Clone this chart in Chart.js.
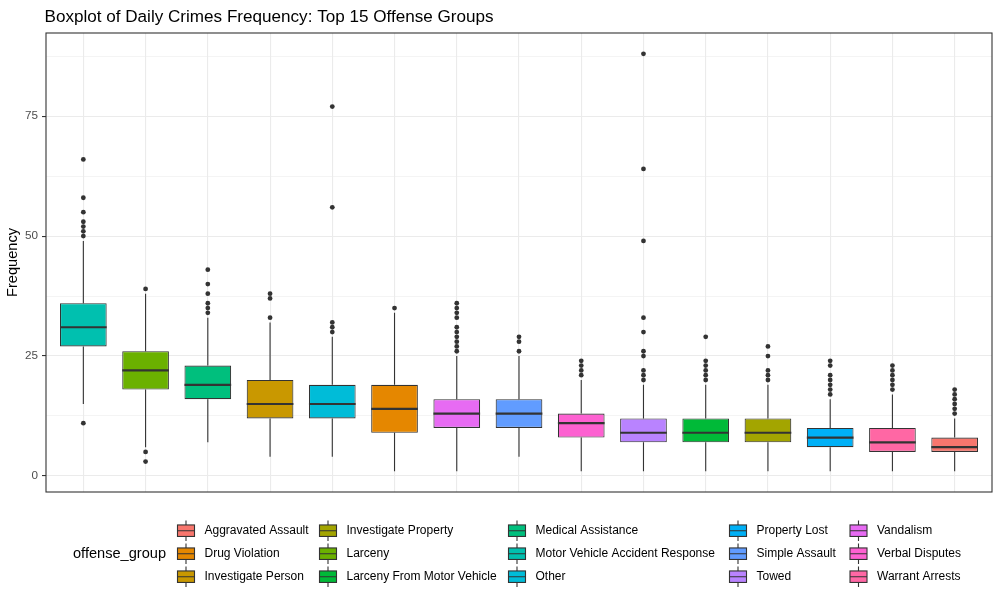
<!DOCTYPE html>
<html>
<head>
<meta charset="utf-8">
<script src="https://cdn.jsdelivr.net/npm/chart.js@4.4.1/dist/chart.umd.min.js"></script>
<style>
  html, body { margin: 0; padding: 0; background: #fff; }
  #wrap { width: 1000px; height: 602px; position: relative; }
</style>
</head>
<body>
<div id="wrap"><canvas id="chart"></canvas></div>
<script>
// legend groups (alphabetical, ggplot hue palette)
const offenseGroups = ["Aggravated Assault", "Drug Violation", "Investigate Person", "Investigate Property",
  "Larceny", "Larceny From Motor Vehicle", "Medical Assistance", "Motor Vehicle Accident Response",
  "Other", "Property Lost", "Simple Assault", "Towed", "Vandalism", "Verbal Disputes", "Warrant Arrests"];
const groupColors = ["#F8766D", "#E58700", "#C99800", "#A3A500", "#6BB100", "#00BA38", "#00BF7D", "#00C0AF",
  "#00BCD8", "#00B0F6", "#619CFF", "#B983FF", "#E76BF3", "#FD61D1", "#FF67A4"];

// boxes, in plotted order (by median)
const categories = ["Motor Vehicle Accident Response", "Larceny", "Medical Assistance", "Investigate Person",
  "Other", "Drug Violation", "Vandalism", "Simple Assault", "Verbal Disputes", "Towed",
  "Larceny From Motor Vehicle", "Investigate Property", "Property Lost", "Warrant Arrests", "Aggravated Assault"];
const lowerWhisker = [15, 6, 7, 4, 4, 1, 1, 4, 1, 1, 1, 1, 1, 1, 1];
const q1 = [27, 18, 16, 12, 12, 9, 10, 10, 8, 7, 7, 7, 6, 5, 5];
const median = [31, 22, 19, 15, 15, 14, 13, 13, 11, 9, 9, 9, 8, 7, 6];
const q3 = [36, 26, 23, 20, 19, 19, 16, 16, 13, 12, 12, 12, 10, 10, 8];
const upperWhisker = [49, 38, 33, 32, 29, 34, 25, 25, 20, 19, 19, 19, 16, 17, 12];
const outliers = [
  [11, 50, 51, 52, 53, 55, 58, 66],
  [3, 5, 39],
  [34, 35, 36, 38, 40, 43],
  [33, 37, 38],
  [30, 31, 32, 56, 77],
  [35],
  [26, 27, 28, 29, 30, 31, 33, 34, 35, 36],
  [26, 28, 29],
  [21, 22, 23, 24],
  [20, 21, 22, 25, 26, 30, 33, 49, 64, 88],
  [20, 21, 22, 23, 24, 29],
  [20, 21, 22, 25, 27],
  [17, 18, 19, 20, 21, 23, 24],
  [18, 19, 20, 21, 22, 23],
  [13, 14, 15, 16, 17, 18]
];
const yTicks = [0, 12.5, 25, 37.5, 50, 62.5, 75, 87.5];

const FONT = "'Liberation Sans', Arial, sans-serif";
const INK = "#333333";

const boxColors = categories.map(c => groupColors[offenseGroups.indexOf(c)]);
const outlierPoints = [];
outliers.forEach((list, i) => list.forEach(v => outlierPoints.push({ x: i, y: v })));

// whiskers + median lines
const boxPlugin = {
  id: "boxExtras",
  afterDatasetsDraw(chart) {
    const ctx = chart.ctx;
    const xs = chart.scales.x, ys = chart.scales.y;
    const meta = chart.getDatasetMeta(0);
    ctx.save();
    ctx.strokeStyle = INK;
    categories.forEach((c, i) => {
      const x = xs.getPixelForValue(i);
      ctx.lineWidth = 1.1;
      ctx.beginPath();
      ctx.moveTo(x, ys.getPixelForValue(q3[i]));
      ctx.lineTo(x, ys.getPixelForValue(upperWhisker[i]));
      ctx.moveTo(x, ys.getPixelForValue(q1[i]));
      ctx.lineTo(x, ys.getPixelForValue(lowerWhisker[i]));
      ctx.stroke();
      const w = meta.data[i].width;
      const ym = ys.getPixelForValue(median[i]);
      ctx.lineWidth = 2.2;
      ctx.beginPath();
      ctx.moveTo(x - w / 2, ym);
      ctx.lineTo(x + w / 2, ym);
      ctx.stroke();
    });
    ctx.restore();
  },
  afterDraw(chart) {
    const ctx = chart.ctx;
    const a = chart.chartArea;
    ctx.save();
    // panel border
    ctx.strokeStyle = INK;
    ctx.lineWidth = 1.1;
    ctx.strokeRect(a.left, a.top, a.right - a.left, a.bottom - a.top);

    // title
    ctx.fillStyle = "#000";
    ctx.font = "17.1px " + FONT;
    ctx.textAlign = "left";
    ctx.textBaseline = "alphabetic";
    ctx.fillText("Boxplot of Daily Crimes Frequency: Top 15 Offense Groups", 44.5, 22);

    // y axis title
    ctx.save();
    ctx.translate(13, (a.top + a.bottom) / 2);
    ctx.rotate(-Math.PI / 2);
    ctx.font = "14.6px " + FONT;
    ctx.textAlign = "center";
    ctx.textBaseline = "middle";
    ctx.fillText("Frequency", 0, 0);
    ctx.restore();

    // legend
    ctx.font = "14.6px " + FONT;
    ctx.textAlign = "left";
    ctx.textBaseline = "middle";
    ctx.fillText("offense_group", 73, 554);
    const colX = [177.5, 319.5, 508.5, 729.5, 850];
    const rowY = [530.7, 553.7, 576.7];
    ctx.font = "12px " + FONT;
    offenseGroups.forEach((g, k) => {
      const col = Math.floor(k / 3), row = k % 3;
      const kx = colX[col], cy = rowY[row];
      const kw = 17, kh = 11.5;
      ctx.fillStyle = groupColors[k];
      ctx.fillRect(kx, cy - kh / 2, kw, kh);
      ctx.strokeStyle = INK;
      ctx.lineWidth = 1.1;
      ctx.strokeRect(kx, cy - kh / 2, kw, kh);
      ctx.beginPath();
      ctx.moveTo(kx + kw / 2, cy - kh / 2 - 4.5);
      ctx.lineTo(kx + kw / 2, cy - kh / 2);
      ctx.moveTo(kx + kw / 2, cy + kh / 2);
      ctx.lineTo(kx + kw / 2, cy + kh / 2 + 4.5);
      ctx.moveTo(kx, cy);
      ctx.lineTo(kx + kw, cy);
      ctx.stroke();
      ctx.fillStyle = "#000";
      ctx.fillText(g, kx + 27, cy);
    });
    ctx.restore();
  }
};

new Chart(document.getElementById("chart"), {
  type: "bar",
  data: {
    datasets: [
      {
        type: "bar",
        data: categories.map((c, i) => ({ x: i, y: [q1[i], q3[i]] })),
        backgroundColor: boxColors,
        borderColor: INK,
        borderWidth: 1.1,
        borderSkipped: false,
        barPercentage: 0.75,
        categoryPercentage: 1,
        order: 2
      },
      {
        type: "scatter",
        data: outlierPoints,
        pointRadius: 2.4,
        pointBackgroundColor: INK,
        pointBorderWidth: 0,
        order: 1
      }
    ]
  },
  options: {
    responsive: true,
    maintainAspectRatio: false,
    devicePixelRatio: 1,
    animation: false,
    layout: { padding: { left: 0, top: 33, right: 8, bottom: 110 } },
    plugins: { legend: { display: false }, title: { display: false }, tooltip: { enabled: false } },
    scales: {
      x: {
        type: "linear",
        min: -0.6,
        max: 14.6,
        offset: false,
        afterBuildTicks: s => { s.ticks = categories.map((c, i) => ({ value: i })); },
        afterFit: s => { s.height = 0; },
        ticks: { display: false },
        border: { display: false },
        grid: { color: "#EBEBEB", lineWidth: 1.1, drawTicks: false, offset: false }
      },
      y: {
        min: -3.35,
        max: 92.35,
        afterBuildTicks: s => { s.ticks = yTicks.map(v => ({ value: v })); },
        afterFit: s => { s.width = 46; },
        border: { display: false },
        ticks: {
          color: "#4D4D4D",
          font: { family: FONT, size: 11.7 },
          padding: 4,
          callback: v => (v % 25 === 0 ? v : "")
        },
        grid: {
          color: "#EBEBEB",
          lineWidth: c => (c.tick && c.tick.value % 25 === 0 ? 1.1 : 0.55),
          tickLength: 4,
          tickColor: c => (c.tick && c.tick.value % 25 === 0 ? INK : "rgba(0,0,0,0)")
        }
      }
    }
  },
  plugins: [boxPlugin]
});
</script>
</body>
</html>
